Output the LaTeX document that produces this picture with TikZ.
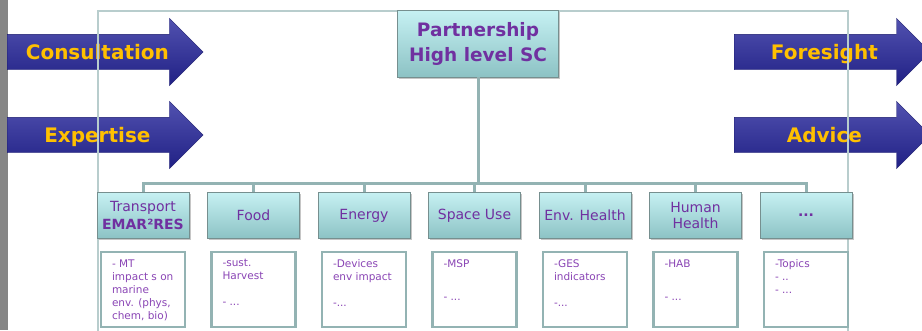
\documentclass[tikz,border=0pt]{standalone}
\usepackage{fontspec}
\setmainfont{DejaVu Sans}
\usepackage{tikz}
\usetikzlibrary{shapes.arrows,shadows,positioning,calc}
\usepackage{xcolor}

\definecolor{plum}{HTML}{7030A0}
\definecolor{lilac}{HTML}{8A45B5}
\definecolor{gold}{HTML}{FFC000}
\definecolor{navy}{HTML}{26269C}
\definecolor{teal}{HTML}{93B3B3}
\definecolor{aquatop}{HTML}{C6F1F3}
\definecolor{aquabot}{HTML}{8CC2C4}
\definecolor{framegray}{HTML}{B8CDCD}

\newcommand{\topiclist}[1]{\parbox[c][60pt][t]{62pt}{\raggedright #1}}

\begin{document}
\begin{tikzpicture}[
    x=1pt, y=-1pt,
    node distance=12pt and 18pt,
    flow/.style={single arrow, top color=navy!80!white, bottom color=navy!85!black,
      draw=navy!70!black, line width=.4pt,
      minimum height=196pt, single arrow head extend=16pt,
      inner sep=0pt, anchor=tail},
    flowtext/.style={text=gold, font=\fontsize{20}{24}\selectfont\bfseries,
      text height=14.5pt, text depth=0pt},
    panel/.style={draw=teal!80!black, line width=.5pt, top color=aquatop,
      bottom color=aquabot, drop shadow={shadow xshift=1.5pt,
      shadow yshift=-1.5pt, opacity=.45}, text=plum, align=center},
    theme/.style={panel, minimum width=92pt, minimum height=46pt, inner sep=1pt,
      font=\fontsize{14}{16}\selectfont},
    topic/.style={draw=teal, line width=2.5pt, fill=white, text=lilac,
      inner xsep=11pt, inner ysep=7.5pt, font=\fontsize{10.5}{13}\selectfont},
    bus/.style={draw=teal, line width=3pt}
  ]

  \clip (0,0) rectangle (922,330);
  \fill[gray!95] (0,0) rectangle (8,330);

  % input / output arrows
  \node[flow] (consult) at (7,52) {\rule{0pt}{35pt}};
  \node[flow] (expert) at (7,135) {\rule{0pt}{35pt}};
  \node[flow] (foresee) at (734,52) {\rule{0pt}{35pt}};
  \node[flow] (advise) at (734,135) {\rule{0pt}{35pt}};
  \node[flowtext] (consultlbl) at ($(consult.tail)!0.46!(consult.tip)$) {Consultation};
  \node[flowtext] (expertlbl) at ($(expert.tail)!0.46!(expert.tip)$) {Expertise};
  \node[flowtext] (foreseelbl) at ($(foresee.tail)!0.46!(foresee.tip)$) {Foresight};
  \node[flowtext] (adviselbl) at ($(advise.tail)!0.46!(advise.tip)$) {Advice};

  \draw[framegray, line width=1.2pt] (98,340) -- (98,11) -- (848,11) -- (848,340);

  % steering committee
  \node[panel, minimum width=161pt, minimum height=67pt,
    font=\fontsize{18.5}{25}\selectfont\bfseries] (partner) at (478,43.5)
    {Partnership\\High level SC};

  % thematic boxes
  \node[theme] (transport) at (143,215.5)
    {Transport\\[2pt]{\bfseries EMAR²RES}};
  \node[theme] (food) [right=of transport] {Food};
  \node[theme] (energy) [right=of food] {Energy};
  \node[theme] (space) [right=of energy] {Space Use};
  \node[theme] (envhealth) [right=of space] {Env. Health};
  \node[theme] (humhealth) [right=of envhealth] {Human\\Health};
  \node[theme] (more) [right=of humhealth] {\bfseries ...};

  \coordinate (hub) at (478,183);
  \draw[bus] (partner.south) -- (hub);
  \foreach \t in {transport,food,energy,space,envhealth,humhealth,more}
    \draw[bus] (hub) -| (\t.north);

  % topics per theme
  \node[topic] (transportlist) [below=of transport]
    {\topiclist{- MT\\impact s on\\marine\\env. (phys,\\chem, bio)}};
  \node[topic] (foodlist) [below=of food]
    {\topiclist{-sust.\\Harvest\\[13pt]- ...}};
  \node[topic] (energylist) [below=of energy]
    {\topiclist{-Devices\\env impact\\[13pt]-...}};
  \node[topic] (spacelist) [below=of space]
    {\topiclist{-MSP\\[20pt]- ...}};
  \node[topic] (envlist) [below=of envhealth]
    {\topiclist{-GES\\indicators\\[13pt]-...}};
  \node[topic] (humlist) [below=of humhealth]
    {\topiclist{-HAB\\[20pt]- ...}};
  \node[topic] (morelist) [below=of more]
    {\topiclist{-Topics\\- ..\\- ...}};

\end{tikzpicture}
\end{document}
